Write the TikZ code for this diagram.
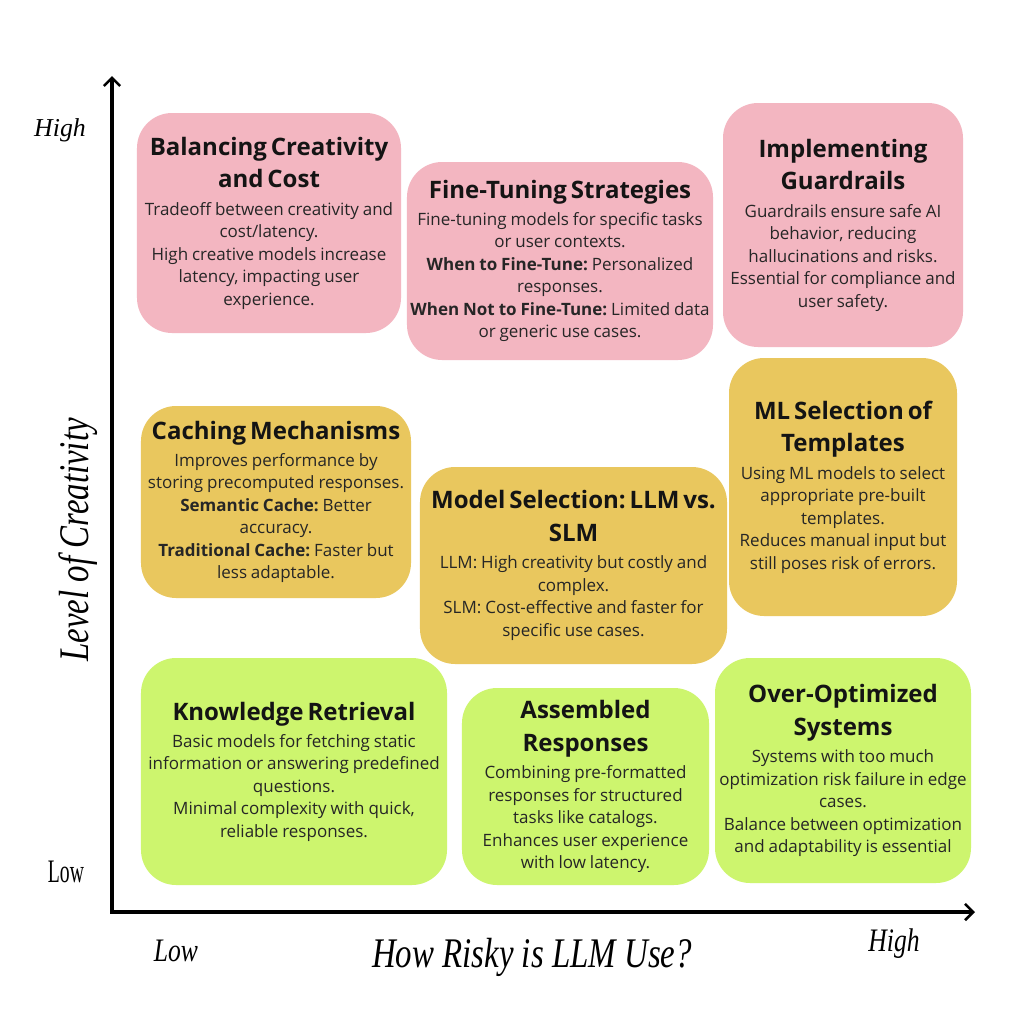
\documentclass[tikz,border=0pt]{standalone}
\usepackage{fontspec}
\setmainfont{Open Sans}
\newfontfamily\axisfont[FakeStretch=0.78]{Liberation Serif}
\newfontfamily\plainaxis{Liberation Serif}
\newfontfamily\narrowaxis[FakeStretch=0.6]{Liberation Serif}
\usepackage{xcolor}
\usetikzlibrary{arrows.meta,positioning}
\frenchspacing

\definecolor{riskpink}{RGB}{243,182,193}
\definecolor{riskgold}{RGB}{233,199,94}
\definecolor{risklime}{RGB}{205,245,110}

% title + body of one card
\newcommand{\cardtext}[2]{%
  {\fontsize{20.5}{28}\selectfont\bfseries\color{black!92}#1\par}\vspace{4pt}%
  {\fontsize{14.5}{19.2}\selectfont\color{black!85}#2\par}}

\begin{document}
\begin{tikzpicture}[
    x=0.03cm, y=-0.03cm,
    card/.style={rectangle, rounded corners=30pt, fill=#1, inner sep=0pt, align=center},
    card/.default=riskpink,
    axis/.style={line width=2.6pt, line join=miter,
        {Straight Barb[length=7pt, width=14pt, line width=2.2pt]}-{Straight Barb[length=7pt, width=14pt, line width=2.2pt]}},
    axislabel/.style={font=\axisfont\itshape\fontsize{#1}{#1}\selectfont},
    axislabel/.default=28
]
    \useasboundingbox (0,0) rectangle (1024,1024);
    \fill[white] (0,0) rectangle (1024,1024);

    % Axes
    \coordinate (origin) at (112,912);
    \coordinate (ytop)   at (112,76);
    \coordinate (xend)   at (975,912);
    \draw[axis] (ytop) -- (origin) -- (xend);

    % Axis labels
    \node[font=\plainaxis\itshape\fontsize{22}{24}\selectfont] (yhigh) at (60,130) {High};
    \node[font=\narrowaxis\fontsize{28}{30}\selectfont]        (ylow)  at (66,872) {Low};
    \node[axislabel=36, rotate=90] (ytitle) at (78,540)  {Level of Creativity};
    \node[axislabel]               (xlow)   at (176,951) {Low};
    \node[axislabel=36]            (xtitle) at (532,957) {How Risky is LLM Use?};
    \node[axislabel]               (xhigh)  at (894,944) {High};

    % Top row: high creativity
    \node[card=riskpink, text width=7.92cm, minimum height=6.6cm] (balance) at (269,223)
        {\cardtext{Balancing Creativity\\and Cost}{Tradeoff between creativity and\\cost/latency.\\High creative models increase\\latency, impacting user\\experience.}};
    \node[card=riskpink, text width=9.18cm, minimum height=5.94cm] (finetune) at (560,261)
        {\cardtext{Fine-Tuning Strategies}{Fine-tuning models for specific tasks\\or user contexts.\\\textbf{When to Fine-Tune:} Personalized\\responses.\\\textbf{When Not to Fine-Tune:} Limited data\\or generic use cases.}};
    \node[card=riskpink, text width=7.2cm, minimum height=7.32cm] (guardrails) at (843,225)
        {\cardtext{Implementing\\Guardrails}{Guardrails ensure safe AI\\behavior, reducing\\hallucinations and risks.\\Essential for compliance and\\user safety.}};

    % Middle row
    \node[card=riskgold, text width=8.1cm, minimum height=5.76cm] (caching) at (276,502)
        {\cardtext{Caching Mechanisms}{Improves performance by\\storing precomputed responses.\\\textbf{Semantic Cache:} Better\\accuracy.\\\textbf{Traditional Cache:} Faster but\\less adaptable.}};
    \node[card=riskgold, text width=9.21cm, minimum height=5.91cm] (modelsel) at (573.5,565.5)
        {\cardtext{Model Selection: LLM vs.\\SLM}{LLM: High creativity but costly and\\complex.\\SLM: Cost-effective and faster for\\specific use cases.}};
    \node[card=riskgold, text width=6.84cm, minimum height=7.74cm] (mlsel) at (843,487)
        {\cardtext{ML Selection of\\Templates}{Using ML models to select\\appropriate pre-built\\templates.\\Reduces manual input but\\still poses risk of errors.}};

    % Bottom row: low creativity
    \node[card=risklime, text width=9.18cm, minimum height=6.81cm] (retrieval) at (294,771.5)
        {\cardtext{Knowledge Retrieval}{Basic models for fetching static\\information or answering predefined\\questions.\\Minimal complexity with quick,\\reliable responses.}};
    \node[card=risklime, text width=7.41cm, minimum height=5.91cm] (assembled) at (585.5,786.5)
        {\cardtext{Assembled\\Responses}{Combining pre-formatted\\responses for structured\\tasks like catalogs.\\Enhances user experience\\with low latency.}};
    \node[card=risklime, text width=7.68cm, minimum height=6.75cm] (overopt) at (843,770.5)
        {\cardtext{Over-Optimized\\Systems}{Systems with too much\\optimization risk failure in edge\\cases.\\Balance between optimization\\and adaptability is essential}};

\end{tikzpicture}
\end{document}
